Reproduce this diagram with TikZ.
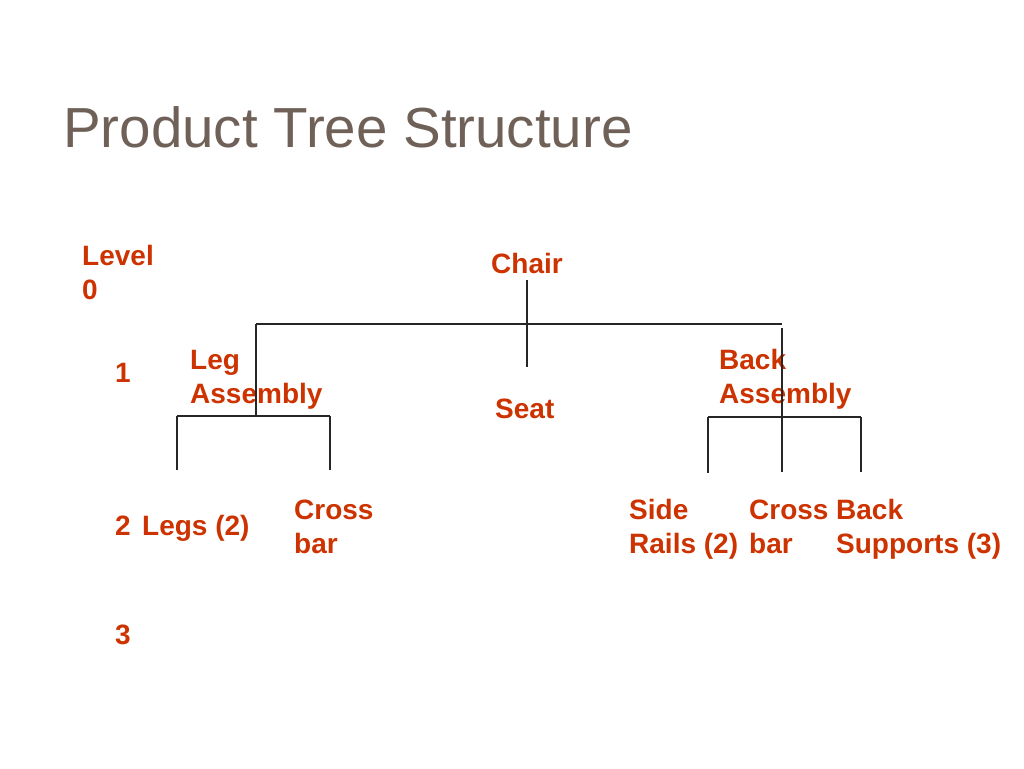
\documentclass[tikz,border=0pt]{standalone}
\usepackage{fontspec}
\setmainfont{Liberation Sans}
\definecolor{lbl}{RGB}{204,51,0}
\definecolor{ttl}{RGB}{112,97,88}
\begin{document}
\begin{tikzpicture}[x=1pt,y=-1pt,
  lab/.style={anchor=base west,inner sep=0pt,text=lbl,font=\fontsize{28}{34}\selectfont\bfseries,align=left},
  ln/.style={draw=black!85,line width=1.5pt}]
\useasboundingbox (0,0) rectangle (1024,768);
\node[anchor=base west,inner sep=0pt,text=ttl,font=\fontsize{56.5}{60}\selectfont] (title) at (63,147) {Product Tree Structure};
% labels (two-line nodes are placed by their last baseline)
\node[lab] (lvl0) at (82,299) {Level\\0};
\node[lab] (lvl1) at (115,382) {1};
\node[lab] (lvl2) at (115,535) {2};
\node[lab] (lvl3) at (115,644) {3};
\node[lab] (chair) at (491,273) {Chair};
\node[lab] (leg) at (190,403) {Leg\\Assembly};
\node[lab] (seat) at (495,418) {Seat};
\node[lab] (back) at (719,403) {Back\\Assembly};
\node[lab] (legs) at (142,535) {Legs (2)};
\node[lab] (cbar1) at (294,553) {Cross\\bar};
\node[lab] (side) at (629,553) {Side\\Rails (2)};
\node[lab] (cbar2) at (749,553) {Cross\\bar};
\node[lab] (supp) at (836,553) {Back\\Supports (3)};
% connector points
\coordinate (c0) at (527,280);
\coordinate (cj) at (527,324);
\coordinate (cs) at (527,367);
\coordinate (tl) at (256,324);
\coordinate (tr) at (782,324);
\coordinate (lj) at (256,416);
\coordinate (ll) at (177,416);
\coordinate (lr) at (330,416);
\coordinate (llb) at (177,470);
\coordinate (lrb) at (330,470);
\coordinate (rt) at (782,328);
\coordinate (rb) at (782,472);
\coordinate (bl) at (708,417);
\coordinate (br) at (861,417);
\coordinate (blb) at (708,473);
\coordinate (brb) at (861,472);
% connectors
\draw[ln] (c0) -- (cs);
\draw[ln] (tl) -- (tr);
\draw[ln] (tl) -- (lj);
\draw[ln] (ll) -- (lr);
\draw[ln] (ll) -- (llb);
\draw[ln] (lr) -- (lrb);
\draw[ln] (rt) -- (rb);
\draw[ln] (bl) -- (br);
\draw[ln] (bl) -- (blb);
\draw[ln] (br) -- (brb);
\end{tikzpicture}
\end{document}
